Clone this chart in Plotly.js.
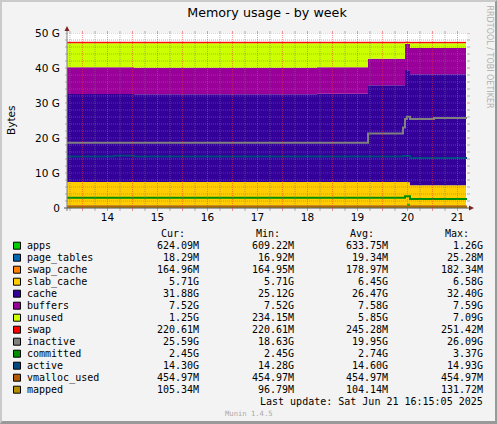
<!DOCTYPE html>
<html><head><meta charset="utf-8">
<script src="https://cdn.plot.ly/plotly-3.0.1.min.js"></script>
<style>
html,body{margin:0;padding:0;background:#f3f3f3;overflow:hidden}
#chart{position:absolute;left:0;top:0;width:497px;height:424px}
#frame{position:absolute;left:0;top:0;width:497px;height:424px;box-sizing:border-box;border-style:solid;border-width:2px 2px 3px 2px;border-color:#cacaca #999 #999 #cacaca;pointer-events:none}
</style></head><body>
<div id="chart"></div><div id="frame"></div>
<script>
// Time breakpoints (day of month)
const days = [13.19,14.13,14.53,18.19,19.21,19.91,19.95,19.99,20.05,20.53,21.17];
const lineDays = [13.19,14.13,14.53,18.19,19.21,19.91,19.95,19.99,20.05,20.53,21.19];
// Stacked series (GB)
const apps       = [0.62,0.62,0.62,0.62,0.62,0.62,0.62,1.26,0.62,0.62,0.62];
const pageTables = [0.02,0.02,0.02,0.02,0.02,0.02,0.02,0.02,0.02,0.02,0.02];
const swapCache  = [0.18,0.18,0.18,0.18,0.18,0.18,0.18,0.18,0.165,0.165,0.165];
const slabCache  = [6.58,6.58,6.58,6.58,6.58,6.58,6.58,5.90,5.71,5.71,5.71];
const cache      = [25.20,25.20,25.12,25.25,27.70,27.70,32.00,32.00,31.70,31.70,31.70];
const buffers    = [7.59,7.59,7.52,7.55,7.55,7.55,7.52,7.52,7.52,7.52,7.52];
const unused     = [6.91,6.91,7.06,6.90,4.45,4.45,0.23,0.23,1.37,1.37,1.37];
const swap       = [0.24,0.24,0.24,0.24,0.24,0.24,0.24,0.24,0.22,0.22,0.22];
// Line series (GB)
const inactive   = [18.63,18.63,18.63,18.63,21.30,23.00,25.40,26.09,25.45,25.75,25.75];
const committed  = [2.90,2.90,2.90,2.90,2.90,2.90,3.37,3.37,2.57,2.57,2.57];
const active     = [14.75,14.93,14.72,14.72,14.72,14.85,14.85,14.85,14.30,14.30,14.30];
const vmallocUsed= [0.455,0.455,0.455,0.455,0.455,0.455,0.455,0.455,0.455,0.455,0.455];
const mapped     = [0.105,0.105,0.105,0.105,0.105,0.105,0.105,0.105,0.105,0.105,0.105];
// Legend table
const names  = ['apps','page_tables','swap_cache','slab_cache','cache','buffers','unused','swap','inactive','committed','active','vmalloc_used','mapped'];
const colors = ['#00CC00','#0066B3','#FF8000','#FFCC00','#330099','#990099','#CCFF00','#FF0000','#808080','#008F00','#00487D','#B35A00','#B38F00'];
const curVals= ['624.09M','18.29M','164.96M','5.71G','31.88G','7.52G','1.25G','220.61M','25.59G','2.45G','14.30G','454.97M','105.34M'];
const minVals= ['609.22M','16.92M','164.95M','5.71G','25.12G','7.52G','234.15M','220.61M','18.63G','2.45G','14.28G','454.97M','96.79M'];
const avgVals= ['633.75M','19.34M','178.97M','6.45G','26.47G','7.58G','5.85G','245.28M','19.95G','2.74G','14.60G','454.97M','104.14M'];
const maxVals= ['1.26G','25.28M','182.34M','6.58G','32.40G','7.59G','7.09G','251.42M','26.09G','3.37G','14.93G','454.97M','131.72M'];
const xTicks = [14,15,16,17,18,19,20,21];
const yTicks = [0,10,20,30,40,50];
const yLabels= ['0','10 G','20 G','30 G','40 G','50 G'];

// Layout geometry, in page pixels
const L=67,R=467,T=33,B=208;
const px=x=>(x-L)/(R-L), py=y=>(B-y)/(B-T);
const X0=13.19,X1=21.19;

const stacked=[apps,pageTables,swapCache,slabCache,cache,buffers,unused,swap];
const lined=[inactive,committed,active,vmallocUsed,mapped];
const traces=[];
stacked.forEach((s,i)=>traces.push({x:days,y:s,name:names[i],type:'scatter',mode:'lines',stackgroup:'m',
  fillcolor:colors[i],line:{width:i===7?1:0,color:colors[i],shape:'hv'},hoverinfo:'skip'}));
lined.forEach((s,i)=>traces.push({x:lineDays,y:s,name:names[i+8],type:'scatter',mode:'lines',
  line:{width:i>=3?1.6:2,color:colors[i+8],shape:'hv'},hoverinfo:'skip'}));

const shapes=[];
const MINOR='rgba(120,120,120,0.55)',MAJOR='rgba(240,50,50,0.5)';
const stub=(c)=>({color:c,width:1});
for(let g=2;g<=50;g+=2){
  const c=g%10===0?MAJOR:MINOR;
  shapes.push({type:'line',layer:'above',xref:'paper',yref:'y',x0:0,x1:1,y0:g,y1:g,line:{color:c,width:1,dash:'1px,1px'}});
  shapes.push({type:'line',layer:'above',xref:'paper',yref:'y',x0:px(65),x1:0,y0:g,y1:g,line:stub(c)});
  shapes.push({type:'line',layer:'above',xref:'paper',yref:'y',x0:1,x1:px(470),y0:g,y1:g,line:stub(c)});
}
for(let k=0;k<32;k++){
  const d=13.25+k*0.25, c=(k%4===1)?MAJOR:MINOR;
  if(d>X1) break;
  shapes.push({type:'line',layer:'above',xref:'x',yref:'paper',x0:d,x1:d,y0:0,y1:1,line:{color:c,width:1,dash:'1px,1px'}});
  shapes.push({type:'line',layer:'above',xref:'x',yref:'paper',x0:d,x1:d,y0:py(211),y1:0,line:stub(c)});
  shapes.push({type:'line',layer:'above',xref:'x',yref:'paper',x0:d,x1:d,y0:1,y1:py(31),line:stub(c)});
}
// axes and arrow heads
shapes.push({type:'line',layer:'above',xref:'paper',yref:'paper',x0:px(67),x1:px(67),y0:py(211),y1:py(30),line:{color:'#808080',width:1}});
shapes.push({type:'line',layer:'above',xref:'paper',yref:'paper',x0:px(64),x1:px(470),y0:py(208),y1:py(208),line:{color:'#505050',width:1}});
shapes.push({type:'path',layer:'above',xref:'paper',yref:'paper',fillcolor:'#7f2020',line:{width:0},
  path:`M ${px(64.5)} ${py(31)} L ${px(69.5)} ${py(31)} L ${px(67)} ${py(26)} Z`});
shapes.push({type:'path',layer:'above',xref:'paper',yref:'paper',fillcolor:'#7f2020',line:{width:0},
  path:`M ${px(469)} ${py(205.5)} L ${px(469)} ${py(210.5)} L ${px(474)} ${py(208)} Z`});

const MONO='"DejaVu Sans Mono",monospace', SANS='"DejaVu Sans",sans-serif';
const anns=[];
const txt=(s,x,y,anchor,font,extra)=>anns.push(Object.assign({text:s,xref:'paper',yref:'paper',x:px(x),y:py(y),
  xanchor:anchor,yanchor:'middle',showarrow:false,borderpad:0,borderwidth:0,font:Object.assign({family:MONO,size:10,color:'#000'},font||{})},extra||{}));
names.forEach((n,i)=>{
  const y=245.7+12*i;
  shapes.push({type:'rect',layer:'above',xref:'paper',yref:'paper',x0:px(13.5),x1:px(20.5),y0:py(y-3.5),y1:py(y+3.5),fillcolor:colors[i],line:{color:'#000',width:1}});
  txt(n,27,y,'left');
  txt(curVals[i],199,y,'right');
  txt(minVals[i],294,y,'right');
  txt(avgVals[i],388,y,'right');
  txt(maxVals[i],483,y,'right');
});
txt('Cur:',185,233.7,'right');txt('Min:',280,233.7,'right');txt('Avg:',374,233.7,'right');txt('Max:',469,233.7,'right');
txt('Last update: Sat Jun 21 16:15:05 2025',483,401.7,'right');
txt('Munin 1.4.5',248.5,413,'center',{size:7.2,color:'#aaaaaa'});
txt('RRDTOOL / TOBI OETIKER',489,56.5,'center',{family:SANS,size:8,color:'#b0b0b0'},{textangle:90});
txt('Bytes',11,120,'center',{family:SANS,size:10.5},{textangle:-90});

Plotly.newPlot('chart',traces,{
  width:497,height:424,
  paper_bgcolor:'#f3f3f3',plot_bgcolor:'#ffffff',showlegend:false,
  margin:{l:L,r:497-R,t:T,b:424-B,pad:0},
  title:{text:'Memory usage - by week',font:{family:SANS,size:12.7,color:'#000'},x:267/497,xanchor:'center',y:1-12.5/424,yanchor:'middle'},
  xaxis:{range:[X0,X1],tickmode:'array',tickvals:xTicks,ticktext:xTicks.map(String),showgrid:false,zeroline:false,showline:false,
    ticks:'outside',ticklen:2,ticklabelstandoff:-3,tickcolor:'rgba(0,0,0,0)',tickfont:{family:SANS,size:10.5,color:'#000'}},
  yaxis:{range:[0,50],tickmode:'array',tickvals:yTicks,ticktext:yLabels,showgrid:false,zeroline:false,showline:false,
    ticks:'outside',ticklen:4,tickcolor:'rgba(0,0,0,0)',tickfont:{family:SANS,size:10.5,color:'#000'}},
  shapes:shapes,annotations:anns
},{displayModeBar:false,staticPlot:true});
</script></body></html>
